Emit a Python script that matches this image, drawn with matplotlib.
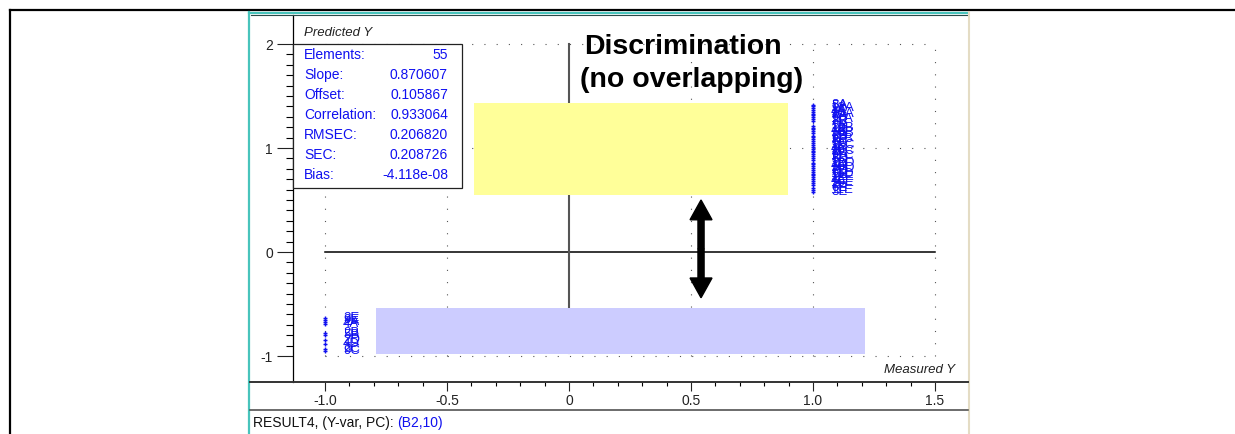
import numpy as np
import matplotlib.pyplot as plt
from matplotlib.patches import Rectangle, FancyArrow
from matplotlib.lines import Line2D

plt.rcParams['font.family'] = ['Liberation Sans', 'DejaVu Sans']
plt.rcParams['axes.unicode_minus'] = False

# samples of class "low" (measured -1) and class "high" (measured 1)
low_measured = [-1.0] * 10
low_predicted = [-0.63, -0.65, -0.67, -0.69, -0.78, -0.80, -0.85, -0.88, -0.93, -0.95]
low_labels = ['2E', '9E', '2A', '4A', '2B', '5B', '2D', '4D', '2C', '9C']

high_measured = [1.0] * 45
high_predicted = [1.41, 1.40, 1.38, 1.37, 1.35, 1.33, 1.32, 1.30, 1.28, 1.26,
                  1.21, 1.19, 1.18, 1.16, 1.14, 1.12, 1.11, 1.09, 1.07, 1.05,
                  1.03, 1.01, 0.99, 0.97, 0.96, 0.94, 0.92, 0.90, 0.88, 0.86,
                  0.85, 0.83, 0.81, 0.79, 0.77, 0.75, 0.74, 0.72, 0.70, 0.68,
                  0.66, 0.64, 0.62, 0.60, 0.58]
high_labels = ['3A', '5A', '12A', '1A', '4A', '10A', '2A', '6A', '11A',
               '3B', '5B', '12B', '1B', '4B', '10B', '2B', '6B', '11B',
               '3C', '5C', '12C', '1C', '4C', '10C', '2C', '6C', '11C',
               '3D', '5D', '12D', '1D', '4D', '10D', '2D', '6D', '11D',
               '5E', '12E', '1E', '4E', '10E', '2E', '6E', '11E', '3E']

stat_names = ['Elements:', 'Slope:', 'Offset:', 'Correlation:', 'RMSEC:', 'SEC:', 'Bias:']
stat_values = ['55', '0.870607', '0.105867', '0.933064', '0.206820', '0.208726', '-4.118e-08']

x_ticks = [-1.0, -0.5, 0.0, 0.5, 1.0, 1.5]
x_ticklabels = ['-1.0', '-0.5', '0', '0.5', '1.0', '1.5']
y_ticks = [-1, 0, 1, 2]
y_ticklabels = ['-1', '0', '1', '2']
grid_x = [-1.0, -0.5, 0.5, 1.0, 1.5]
grid_y = [-1, 1, 2]

BLUE = '#1010f0'
W, H = 1235, 434


def fx(px):
    return px / W


def fy(py):
    return 1 - py / H


fig = plt.figure(figsize=(W / 100, H / 100), dpi=100)
fig.patch.set_facecolor('white')


def fline(x0, x1, y0, y1, **kw):
    fig.add_artist(Line2D([fx(x0), fx(x1)], [fy(y0), fy(y1)],
                          transform=fig.transFigure, **kw))


# outer frame of the slide
fline(10, 1235, 10, 10, color='black', lw=1.6)
fline(10, 10, 10, 434, color='black', lw=1.6)
# screenshot window borders
fline(249, 968, 12.5, 12.5, color='#48c4bc', lw=1.6)
fline(251, 968, 14.5, 14.5, color='#2a4a48', lw=0.8)
fline(249, 249, 12, 434, color='#48c4bc', lw=1.6)
fline(968.5, 968.5, 12, 434, color='#e4dcc4', lw=1.5)
fline(250, 968, 382, 382, color='#333333', lw=1.4)
fline(250, 968, 410, 410, color='#444444', lw=1.1)

ax = fig.add_axes([fx(293), fy(382), fx(968) - fx(293), fy(15) - fy(382)])
ax.set_xlim(-1.131, 1.635)
ax.set_ylim(-1.25, 2.279)
ax.patch.set_alpha(0)
for s in ['top', 'right', 'bottom']:
    ax.spines[s].set_visible(False)
ax.spines['left'].set_linewidth(0.9)

ax.set_xticks(x_ticks)
ax.set_xticklabels(x_ticklabels)
ax.set_xticks(np.arange(-1.0, 1.51, 0.1), minor=True)
ax.set_yticks(y_ticks)
ax.set_yticklabels(y_ticklabels)
ax.set_yticks(np.arange(-1.0, 2.01, 0.1), minor=True)
ax.tick_params(axis='x', which='major', length=6.5, width=0.8, pad=2,
               labelsize=10, colors='#222222')
ax.tick_params(axis='x', which='minor', length=3, width=0.8)
ax.tick_params(axis='y', which='major', length=11.5, width=0.8, pad=3,
               labelsize=10, colors='#222222')
ax.tick_params(axis='y', which='minor', length=5, width=0.8)

# dotted grid
for gx in grid_x:
    ax.plot([gx, gx], [-1, 2], color='#555555', lw=0.8, ls=(0, (1, 10)), zorder=1)
for gy in grid_y:
    ax.plot([-1, 1.5], [gy, gy], color='#555555', lw=0.8, ls=(0, (1, 10)), zorder=1)
ax.plot([-1, 1.5], [0, 0], color='black', lw=1.1, zorder=2)
ax.plot([0, 0], [-0.97, 2], color='#555555', lw=1.5, zorder=2)

# data points with labels
for xs, ys, labs in [(low_measured, low_predicted, low_labels),
                     (high_measured, high_predicted, high_labels)]:
    ax.plot(xs, ys, ls='none', marker='+', ms=3, mew=1.0, color=BLUE, zorder=3)
    for xv, yv, lab in zip(xs, ys, labs):
        ax.annotate(lab, (xv, yv), xytext=(13, 0), textcoords='offset points',
                    va='center', ha='left', fontsize=9.5, color=BLUE, zorder=3)

# highlighted regions
ax.add_patch(Rectangle((-0.389, 0.548), 0.898 + 0.389, 1.433 - 0.548,
                       facecolor='#ffff99', edgecolor='none', zorder=4))
ax.add_patch(Rectangle((-0.791, -0.981), 1.213 + 0.791, 0.981 - 0.538,
                       facecolor='#ccccff', edgecolor='none', zorder=4))

# double arrow
mid = 0.03
ax.add_patch(FancyArrow(0.541, mid, 0, 0.5 - mid, width=0.025, head_width=0.09,
                        head_length=0.19, length_includes_head=True,
                        color='black', zorder=6))
ax.add_patch(FancyArrow(0.541, mid, 0, -0.44 - mid, width=0.025, head_width=0.09,
                        head_length=0.19, length_includes_head=True,
                        color='black', zorder=6))

ax.text(0.467, 1.975, 'Discrimination', ha='center', va='center',
        fontsize=20.5, fontweight='bold', zorder=6)
ax.text(0.504, 1.65, '(no overlapping)', ha='center', va='center',
        fontsize=20.5, fontweight='bold', zorder=6)

# statistics box
ax.add_patch(Rectangle((-1.131, 0.615), 1.131 - 0.439, 2.0 - 0.615,
                       facecolor='white', edgecolor='#222222', lw=0.9,
                       zorder=5, clip_on=False))
for i, (nm, val) in enumerate(zip(stat_names, stat_values)):
    yy = 1.894 - i * 0.1923
    ax.text(-1.086, yy, nm, ha='left', va='center', fontsize=10, color=BLUE, zorder=6)
    ax.text(-0.496, yy, val, ha='right', va='center', fontsize=10, color=BLUE, zorder=6)

ax.text(-1.086, 2.11, 'Predicted Y', ha='left', va='center', fontsize=9.5,
        style='italic', color='#222222')
ax.text(1.582, -1.135, 'Measured Y', ha='right', va='center', fontsize=9.5,
        style='italic', color='#222222')

# status bar
status = fig.text(fx(253), fy(423), 'RESULT4, (Y-var, PC): ', ha='left', va='center',
                  fontsize=10, color='#111111')
ax.annotate('(B2,10)', xy=(1, 0.5), xycoords=status, ha='left', va='center',
            fontsize=10, color=BLUE, annotation_clip=False)

plt.savefig('out.png', dpi=100)
